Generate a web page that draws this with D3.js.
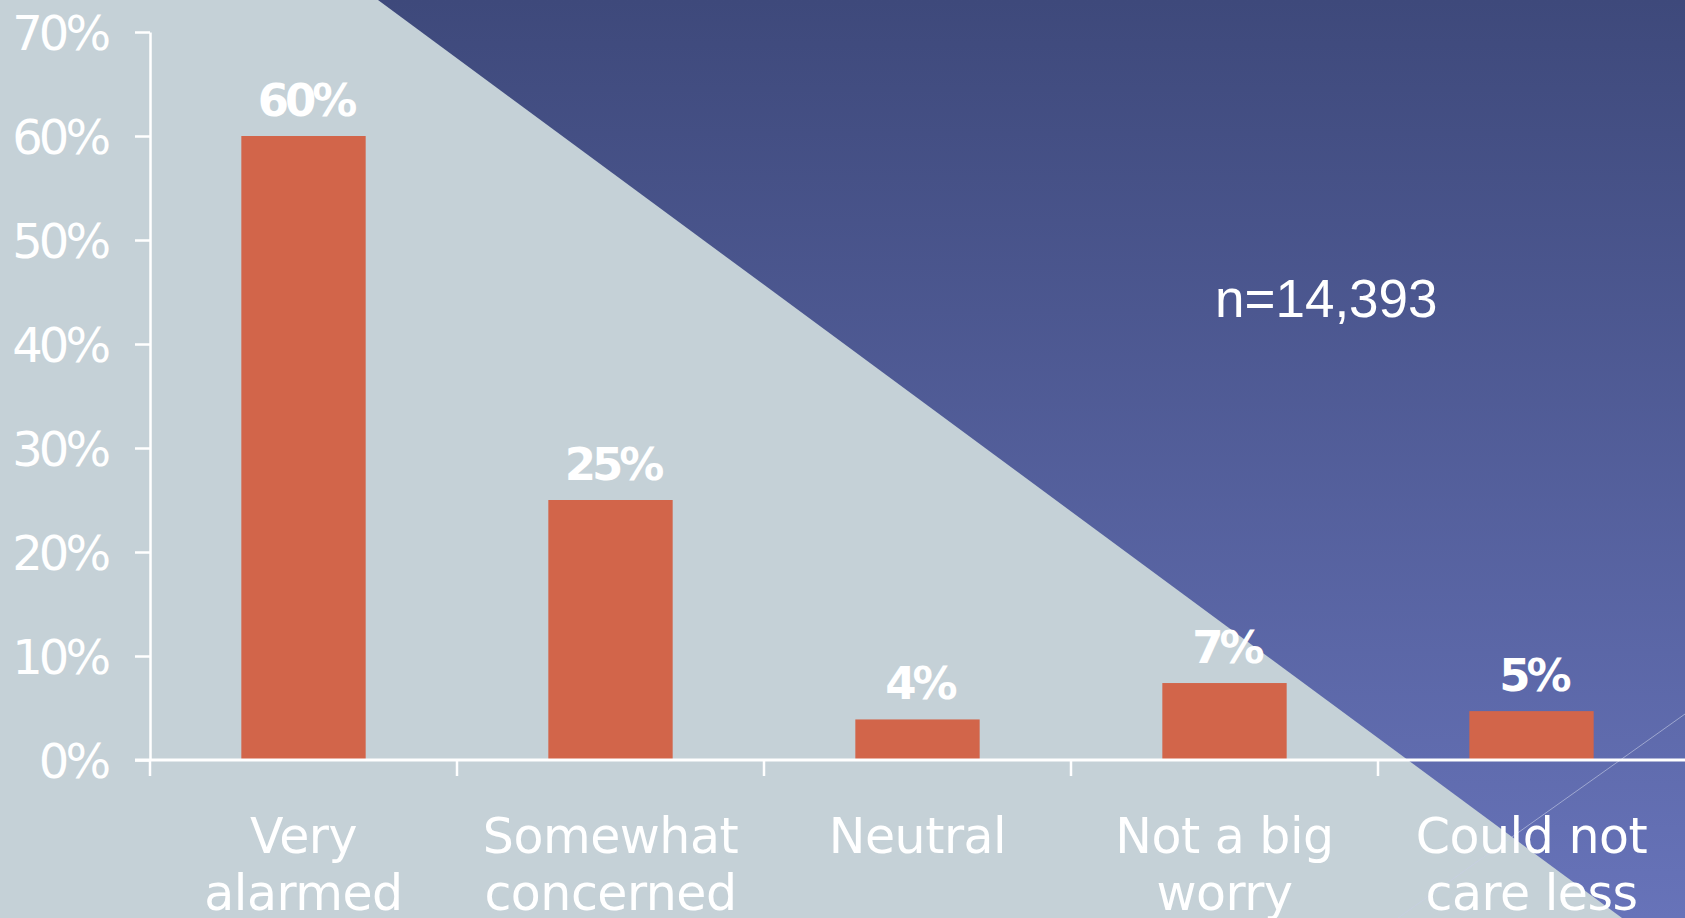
<!DOCTYPE html>
<html>
<head>
<meta charset="utf-8">
<script src="https://cdn.jsdelivr.net/npm/d3@7/dist/d3.min.js"></script>
<style>
  html, body { margin: 0; padding: 0; background: #c5d1d7; overflow: hidden; }
  svg { display: block; }
</style>
</head>
<body>
<svg width="1685" height="918"></svg>
<script>
// data
const categories = ["Very alarmed", "Somewhat concerned", "Neutral", "Not a big worry", "Could not care less"];
const categoryLines = [["Very", "alarmed"], ["Somewhat", "concerned"], ["Neutral"], ["Not a big", "worry"], ["Could not", "care less"]];
const values = [60, 25, 3.9, 7.4, 4.7];
const valueLabels = ["60%", "25%", "4%", "7%", "5%"];
const yTicks = [0, 10, 20, 30, 40, 50, 60, 70];
const yTickLabels = ["0%", "10%", "20%", "30%", "40%", "50%", "60%", "70%"];
const sampleNote = "n=14,393";

const width = 1685, height = 918;
const margin = { top: 32, left: 150, bottom: 158 };

const svg = d3.select("svg");

// background: light triangle + blue gradient wedge
const defs = svg.append("defs");
const grad = defs.append("linearGradient")
  .attr("id", "blue")
  .attr("gradientUnits", "userSpaceOnUse")
  .attr("x1", 0).attr("y1", 0).attr("x2", 0).attr("y2", height);
grad.append("stop").attr("offset", 0).attr("stop-color", "#3e497b");
grad.append("stop").attr("offset", 1).attr("stop-color", "#6773b9");

svg.append("rect").attr("width", width).attr("height", height).attr("fill", "#c5d1d7");
svg.append("path")
  .attr("d", `M378,0 L${width},0 L${width},${height} L1622,${height} Z`)
  .attr("fill", "url(#blue)");
// faint decorative line
svg.append("line")
  .attr("x1", width).attr("y1", 714).attr("x2", 1398).attr("y2", height)
  .attr("stroke", "#c8cfe6").attr("stroke-opacity", 0.6).attr("stroke-width", 1);

const x = d3.scaleBand()
  .domain(categories)
  .range([margin.left, width]);

const y = d3.scaleLinear()
  .domain([0, 70])
  .range([height - margin.bottom, margin.top]);

const barW = x.bandwidth() * 0.405;

// bars
svg.append("g").selectAll("rect")
  .data(values)
  .join("rect")
  .attr("x", (d, i) => x(categories[i]) + (x.bandwidth() - barW) / 2)
  .attr("y", d => y(d))
  .attr("width", barW)
  .attr("height", d => y(0) - y(d))
  .attr("fill", "#d2654a");

// value labels
svg.append("g").selectAll("text")
  .data(values)
  .join("text")
  .attr("x", (d, i) => x(categories[i]) + x.bandwidth() / 2 + 2)
  .attr("y", d => y(d) - 20)
  .attr("text-anchor", "middle")
  .attr("fill", "#fff")
  .style("font-family", "'DejaVu Sans', sans-serif")
  .style("font-weight", "bold")
  .style("font-size", "45px")
  .style("letter-spacing", "-4px")
  .text((d, i) => valueLabels[i]);

// y axis
const yAxis = svg.append("g")
  .attr("transform", `translate(${margin.left},0)`)
  .call(d3.axisLeft(y)
    .tickValues(yTicks)
    .tickFormat((d, i) => yTickLabels[i])
    .tickSize(15)
    .tickSizeOuter(0)
    .tickPadding(28));
yAxis.selectAll("path, line").attr("stroke", "#fff").attr("stroke-width", 2.5);
yAxis.selectAll("text")
  .attr("fill", "#fff")
  .attr("dy", "0.36em")
  .style("font-family", "'DejaVu Sans', sans-serif")
  .style("font-size", "48px")
  .style("letter-spacing", "-4px");

// x axis: baseline with ticks at band edges
const xAxis = svg.append("g");
xAxis.append("line")
  .attr("x1", margin.left - 15).attr("x2", width)
  .attr("y1", y(0)).attr("y2", y(0))
  .attr("stroke", "#fff").attr("stroke-width", 3);
xAxis.selectAll("line.tick")
  .data(categories)
  .join("line")
  .attr("class", "tick")
  .attr("x1", d => x(d)).attr("x2", d => x(d))
  .attr("y1", y(0)).attr("y2", y(0) + 16)
  .attr("stroke", "#fff").attr("stroke-width", 2.5);

// category labels
const cat = xAxis.selectAll("text")
  .data(categories)
  .join("text")
  .attr("x", d => x(d) + x.bandwidth() / 2)
  .attr("y", 853)
  .attr("text-anchor", "middle")
  .attr("fill", "#fff")
  .style("font-family", "'DejaVu Sans', sans-serif")
  .style("font-size", "49px")
  .style("letter-spacing", "-0.5px");
cat.selectAll("tspan")
  .data((d, i) => categoryLines[i])
  .join("tspan")
  .attr("x", function () { return this.parentNode.getAttribute("x"); })
  .attr("dy", (d, i) => i === 0 ? 0 : 57)
  .text(d => d);

// sample size note
svg.append("text")
  .attr("x", 1215)
  .attr("y", 317)
  .attr("fill", "#fff")
  .style("font-family", "'Liberation Sans', Arial, sans-serif")
  .style("font-size", "53px")
  .text(sampleNote);
</script>
</body>
</html>
